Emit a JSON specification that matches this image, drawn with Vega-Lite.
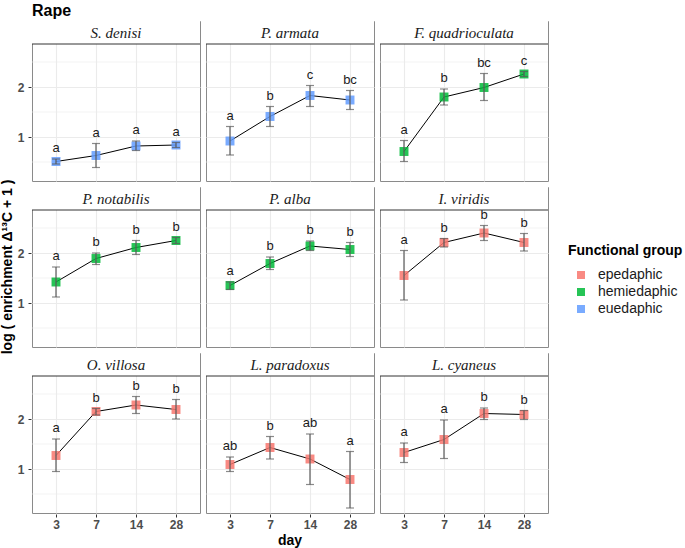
{
  "$schema": "https://vega.github.io/schema/vega-lite/v6.json",
  "background": "white",
  "padding": {"left": 0, "top": 2, "right": 2, "bottom": 3},
  "title": {"text": "Rape", "anchor": "start", "frame": "group", "font": "Liberation Sans", "fontSize": 16, "fontWeight": "bold", "color": "black", "offset": 2},
  "data": {"values": [
    {"species": "S. denisi", "group": "euedaphic", "day": 3, "mean": 0.51, "lo": 0.46, "hi": 0.56, "letter": "a"},
    {"species": "S. denisi", "group": "euedaphic", "day": 7, "mean": 0.63, "lo": 0.39, "hi": 0.87, "letter": "a"},
    {"species": "S. denisi", "group": "euedaphic", "day": 14, "mean": 0.82, "lo": 0.73, "hi": 0.92, "letter": "a"},
    {"species": "S. denisi", "group": "euedaphic", "day": 28, "mean": 0.84, "lo": 0.79, "hi": 0.89, "letter": "a"},
    {"species": "P. armata", "group": "euedaphic", "day": 3, "mean": 0.92, "lo": 0.64, "hi": 1.21, "letter": "a"},
    {"species": "P. armata", "group": "euedaphic", "day": 7, "mean": 1.41, "lo": 1.21, "hi": 1.61, "letter": "b"},
    {"species": "P. armata", "group": "euedaphic", "day": 14, "mean": 1.83, "lo": 1.61, "hi": 2.03, "letter": "c"},
    {"species": "P. armata", "group": "euedaphic", "day": 28, "mean": 1.74, "lo": 1.55, "hi": 1.93, "letter": "bc"},
    {"species": "F. quadrioculata", "group": "hemiedaphic", "day": 3, "mean": 0.71, "lo": 0.51, "hi": 0.93, "letter": "a"},
    {"species": "F. quadrioculata", "group": "hemiedaphic", "day": 7, "mean": 1.80, "lo": 1.64, "hi": 1.96, "letter": "b"},
    {"species": "F. quadrioculata", "group": "hemiedaphic", "day": 14, "mean": 1.99, "lo": 1.73, "hi": 2.27, "letter": "bc"},
    {"species": "F. quadrioculata", "group": "hemiedaphic", "day": 28, "mean": 2.26, "lo": 2.21, "hi": 2.31, "letter": "c"},
    {"species": "P. notabilis", "group": "hemiedaphic", "day": 3, "mean": 1.42, "lo": 1.12, "hi": 1.72, "letter": "a"},
    {"species": "P. notabilis", "group": "hemiedaphic", "day": 7, "mean": 1.89, "lo": 1.77, "hi": 2.0, "letter": "b"},
    {"species": "P. notabilis", "group": "hemiedaphic", "day": 14, "mean": 2.11, "lo": 1.97, "hi": 2.25, "letter": "b"},
    {"species": "P. notabilis", "group": "hemiedaphic", "day": 28, "mean": 2.25, "lo": 2.19, "hi": 2.31, "letter": "b"},
    {"species": "P. alba", "group": "hemiedaphic", "day": 3, "mean": 1.35, "lo": 1.27, "hi": 1.42, "letter": "a"},
    {"species": "P. alba", "group": "hemiedaphic", "day": 7, "mean": 1.79, "lo": 1.67, "hi": 1.92, "letter": "b"},
    {"species": "P. alba", "group": "hemiedaphic", "day": 14, "mean": 2.14, "lo": 2.05, "hi": 2.24, "letter": "b"},
    {"species": "P. alba", "group": "hemiedaphic", "day": 28, "mean": 2.07, "lo": 1.93, "hi": 2.21, "letter": "b"},
    {"species": "I. viridis", "group": "epedaphic", "day": 3, "mean": 1.55, "lo": 1.06, "hi": 2.05, "letter": "a"},
    {"species": "I. viridis", "group": "epedaphic", "day": 7, "mean": 2.21, "lo": 2.12, "hi": 2.29, "letter": "b"},
    {"species": "I. viridis", "group": "epedaphic", "day": 14, "mean": 2.40, "lo": 2.25, "hi": 2.55, "letter": "b"},
    {"species": "I. viridis", "group": "epedaphic", "day": 28, "mean": 2.21, "lo": 2.04, "hi": 2.39, "letter": "b"},
    {"species": "O. villosa", "group": "epedaphic", "day": 3, "mean": 1.27, "lo": 0.95, "hi": 1.6, "letter": "a"},
    {"species": "O. villosa", "group": "epedaphic", "day": 7, "mean": 2.15, "lo": 2.08, "hi": 2.21, "letter": "b"},
    {"species": "O. villosa", "group": "epedaphic", "day": 14, "mean": 2.28, "lo": 2.11, "hi": 2.45, "letter": "b"},
    {"species": "O. villosa", "group": "epedaphic", "day": 28, "mean": 2.19, "lo": 2.0, "hi": 2.39, "letter": "b"},
    {"species": "L. paradoxus", "group": "epedaphic", "day": 3, "mean": 1.09, "lo": 0.95, "hi": 1.24, "letter": "ab"},
    {"species": "L. paradoxus", "group": "epedaphic", "day": 7, "mean": 1.43, "lo": 1.2, "hi": 1.65, "letter": "b"},
    {"species": "L. paradoxus", "group": "epedaphic", "day": 14, "mean": 1.2, "lo": 0.69, "hi": 1.7, "letter": "ab"},
    {"species": "L. paradoxus", "group": "epedaphic", "day": 28, "mean": 0.79, "lo": 0.22, "hi": 1.35, "letter": "a"},
    {"species": "L. cyaneus", "group": "epedaphic", "day": 3, "mean": 1.33, "lo": 1.13, "hi": 1.52, "letter": "a"},
    {"species": "L. cyaneus", "group": "epedaphic", "day": 7, "mean": 1.59, "lo": 1.21, "hi": 1.98, "letter": "a"},
    {"species": "L. cyaneus", "group": "epedaphic", "day": 14, "mean": 2.11, "lo": 1.99, "hi": 2.22, "letter": "b"},
    {"species": "L. cyaneus", "group": "epedaphic", "day": 28, "mean": 2.09, "lo": 1.99, "hi": 2.17, "letter": "b"}
  ]},
  "transform": [
    {"calculate": "indexof(['S. denisi','P. armata','F. quadrioculata','P. notabilis','P. alba','I. viridis','O. villosa','L. paradoxus','L. cyaneus'], datum.species)", "as": "idx"},
    {"calculate": "floor(datum.idx / 3)", "as": "r"},
    {"calculate": "datum.idx % 3", "as": "c"}
  ],
  "facet": {
    "row": {"field": "r", "type": "ordinal", "header": {"labels": false, "labelPadding": 0, "title": "log ( enrichment Δ¹³C + 1 )", "titleOrient": "left", "titleFont": "Liberation Sans", "titleFontSize": 14, "titleFontWeight": "bold", "titleColor": "black", "titlePadding": -8}},
    "column": {"field": "c", "type": "ordinal", "header": {"labels": false, "labelPadding": 0, "title": "day", "titleOrient": "bottom", "titleFont": "Liberation Sans", "titleFontSize": 14, "titleFontWeight": "bold", "titleColor": "black", "titlePadding": -6}}
  },
  "spacing": {"row": 4, "column": 4},
  "resolve": {"scale": {"x": "shared", "y": "shared"}},
  "spec": {
    "width": 168,
    "height": 160,
    "layer": [
      {
        "mark": {"type": "rule", "color": "#EBEBEB", "strokeWidth": 0.6},
        "transform": [{"filter": "datum.day == 3"}],
        "encoding": {"y": {"datum": 0.5, "type": "quantitative", "title": null}}
      },
      {
        "mark": {"type": "rule", "color": "#EBEBEB", "strokeWidth": 0.6},
        "transform": [{"filter": "datum.day == 3"}],
        "encoding": {"y": {"datum": 1.5, "type": "quantitative", "title": null}}
      },
      {
        "mark": {"type": "rule", "color": "#EBEBEB", "strokeWidth": 0.6},
        "transform": [{"filter": "datum.day == 3"}],
        "encoding": {"y": {"datum": 2.5, "type": "quantitative", "title": null}}
      },
      {
        "mark": {"type": "line", "color": "black", "strokeWidth": 1},
        "encoding": {
          "x": {"field": "day", "type": "ordinal", "sort": [3, 7, 14, 28], "title": null, "scale": {"type": "point", "padding": 0.6},
            "axis": {"labelAngle": 0, "domain": false, "grid": true, "tickSize": 3, "tickColor": "#333333", "gridColor": "#EBEBEB", "gridWidth": 1.1, "labelFont": "Liberation Sans", "labelFontSize": 12, "labelFontWeight": "bold", "labelColor": "#4D4D4D", "labelPadding": 2}},
          "y": {"field": "mean", "type": "quantitative", "title": null, "scale": {"domain": [0.12, 3.32], "nice": false, "zero": false},
            "axis": {"values": [1, 2], "domain": false, "grid": true, "tickSize": 3, "tickColor": "#333333", "gridColor": "#EBEBEB", "gridWidth": 1.1,
              "labelFont": "Liberation Sans", "labelFontSize": 12, "labelFontWeight": "bold", "labelColor": "#4D4D4D", "labelPadding": 4, "minExtent": 0}}
        }
      },
      {
        "mark": {"type": "square", "size": 80, "opacity": 0.85, "filled": true},
        "encoding": {
          "x": {"field": "day", "type": "ordinal", "sort": [3, 7, 14, 28]},
          "y": {"field": "mean", "type": "quantitative", "title": null},
          "color": {"field": "group", "type": "nominal", "scale": {"domain": ["epedaphic", "hemiedaphic", "euedaphic"], "range": ["#F8766D", "#00BA38", "#619CFF"]},
            "legend": {"title": "Functional group", "orient": "none", "legendX": 536, "legendY": 223, "titleFont": "Liberation Sans", "titleFontSize": 14, "titleFontWeight": "bold", "titleColor": "black", "labelFont": "Liberation Sans", "labelFontSize": 14, "labelColor": "#1A1A1A", "symbolType": "square", "symbolSize": 64, "symbolOpacity": 0.85, "symbolStrokeWidth": 0, "symbolOffset": 6, "labelOffset": 10, "rowPadding": 3, "titlePadding": 10}}
        }
      },
      {
        "mark": {"type": "rule", "color": "#595959", "strokeWidth": 1.2},
        "encoding": {
          "x": {"field": "day", "type": "ordinal", "sort": [3, 7, 14, 28]},
          "y": {"field": "lo", "type": "quantitative", "title": null},
          "y2": {"field": "hi"}
        }
      },
      {
        "mark": {"type": "tick", "color": "#595959", "thickness": 1.2, "size": 8},
        "encoding": {
          "x": {"field": "day", "type": "ordinal", "sort": [3, 7, 14, 28]},
          "y": {"field": "lo", "type": "quantitative", "title": null}
        }
      },
      {
        "mark": {"type": "tick", "color": "#595959", "thickness": 1.2, "size": 8},
        "encoding": {
          "x": {"field": "day", "type": "ordinal", "sort": [3, 7, 14, 28]},
          "y": {"field": "hi", "type": "quantitative", "title": null}
        }
      },
      {
        "mark": {"type": "text", "font": "Liberation Sans", "fontSize": 13, "color": "#1A1A1A", "baseline": "bottom", "dy": -4},
        "encoding": {
          "x": {"field": "day", "type": "ordinal", "sort": [3, 7, 14, 28]},
          "y": {"field": "hi", "type": "quantitative", "title": null},
          "text": {"field": "letter"}
        }
      },
      {
        "mark": {"type": "rect", "fill": "white"},
        "transform": [{"filter": "datum.day == 3"}],
        "encoding": {
          "y": {"datum": 2.86, "type": "quantitative", "title": null},
          "y2": {"datum": 3.32}
        }
      },
      {
        "mark": {"type": "rule", "color": "#333333", "strokeWidth": 1},
        "transform": [{"filter": "datum.day == 3"}],
        "encoding": {"y": {"datum": 2.86, "type": "quantitative", "title": null}}
      },
      {
        "mark": {"type": "text", "font": "Liberation Serif", "fontStyle": "italic", "fontSize": 15, "color": "#1A1A1A", "baseline": "middle"},
        "transform": [{"filter": "datum.day == 3"}],
        "encoding": {"y": {"datum": 3.09, "type": "quantitative", "title": null}, "text": {"field": "species"}}
      }
    ]
  },
  "config": {
    "view": {"stroke": "#8A8A8A", "strokeWidth": 1},
    "font": "Liberation Sans"
  }
}
